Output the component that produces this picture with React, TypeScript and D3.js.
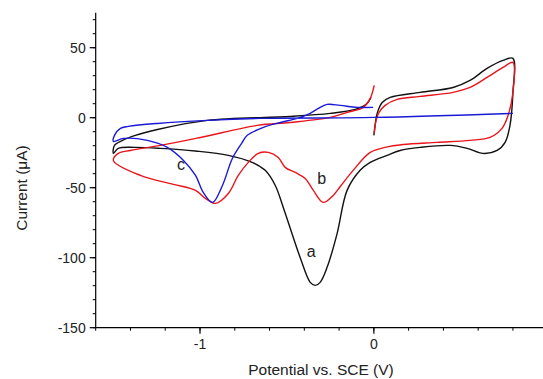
import React from "react";
import * as d3 from "d3";

// Curve a (black)
const blackE = [0.0, 0.007, 0.019, 0.048, 0.094, 0.266, 0.456, 0.553, 0.651, 0.743, 0.8, 0.8, 0.783, 0.755, 0.709, 0.628, 0.536, 0.439, 0.266, 0.151, 0.076, -0.021, -0.079, -0.154, -0.211, -0.269, -0.309, -0.337, -0.366, -0.424, -0.521, -0.567, -0.625, -0.7, -0.837, -1.026, -1.228, -1.372, -1.47, -1.498, -1.492, -1.446, -1.372, -1.245, -0.958, -0.481, -0.251, -0.107, -0.044, -0.016];
const blackI = [-12.6, -5.5, 3.1, 10.9, 14.5, 18.1, 21.6, 26.6, 35.2, 40.9, 42.4, 18.1, -5.5, -17.6, -23.4, -25.5, -21.9, -19.8, -21.2, -23.4, -26.9, -31.9, -37.6, -51.9, -82.6, -106.9, -117.6, -119.8, -117.6, -99.8, -64.1, -48.4, -37.6, -31.9, -26.9, -23.8, -21.9, -21.2, -21.9, -25.5, -19.8, -16.2, -12.6, -8.4, -1.9, 0.9, 3.1, 5.9, 9.5, 14.5];

// Curve b (red)
const redE = [0.002, 0.013, 0.03, 0.065, 0.134, 0.266, 0.456, 0.553, 0.651, 0.743, 0.8, 0.8, 0.772, 0.737, 0.668, 0.553, 0.364, 0.168, 0.065, -0.021, -0.119, -0.193, -0.234, -0.291, -0.348, -0.395, -0.452, -0.51, -0.55, -0.607, -0.665, -0.722, -0.78, -0.837, -0.911, -0.969, -1.026, -1.153, -1.343, -1.498, -1.47, -1.4, -1.228, -0.998, -0.671, -0.481, -0.251, -0.153, -0.061, -0.021, 0.002];
const redI = [-11.3, -1.9, 3.8, 8.8, 13.1, 15.2, 18.1, 21.6, 28.8, 35.9, 39.5, 18.1, 1.6, -7.6, -14.1, -16.2, -17.6, -19.1, -21.2, -24.8, -37.6, -49.1, -55.5, -60.5, -51.9, -43.4, -39.1, -35.5, -28.4, -24.8, -25.5, -31.9, -41.2, -54.1, -61.2, -57.6, -51.9, -47.6, -41.2, -30.6, -25.5, -23.4, -19.8, -14.1, -5.5, -3.4, 0.2, 3.8, 7.4, 13.8, 23.1];

// Curve c (blue)
const blueE = [-0.004, -0.096, -0.194, -0.269, -0.32, -0.366, -0.441, -0.538, -0.635, -0.728, -0.757, -0.814, -0.871, -0.928, -0.981, -1.026, -1.095, -1.188, -1.303, -1.44, -1.498, -1.492, -1.458, -1.412, -1.245, -0.958, -0.653, 0.002, 0.8];
const blueI = [7.4, 7.4, 8.8, 9.5, 6.6, 3.1, -0.5, -3.4, -6.9, -12.6, -17.6, -29.1, -48.4, -60.5, -53.4, -41.2, -30.5, -21.2, -16.2, -14.8, -16.9, -12.6, -7.6, -6.2, -4.1, -1.9, -0.5, 0.2, 3.1];

const yMajorTicks = [-150, -100, -50, 0, 50];
const xMajorTicks = [-1, 0];
const curveLabels = [
  { text: "a", E: -0.36, I: -99.5 },
  { text: "b", E: -0.3, I: -47.5 },
  { text: "c", E: -1.11, I: -37.5 },
];

const W = 543;
const H = 379;

export default function App() {
  const x = d3.scaleLinear().domain([-1.6, 1.0]).range([95.7, 547.7]);
  const y = d3.scaleLinear().domain([-150, 75]).range([327.7, 12.7]);

  const yMinor = d3.range(-150, 75, 10);
  const xMinor = d3.range(-1.6, 1.001, 0.2);

  const line = d3
    .line<[number, number]>()
    .x((d) => x(d[0]))
    .y((d) => y(d[1]))
    .curve(d3.curveCatmullRom.alpha(0.5));

  const zip = (a: number[], b: number[]) => a.map((v, i) => [v, b[i]] as [number, number]);

  const series = [
    { pts: zip(blackE, blackI), color: "#111111" },
    { pts: zip(redE, redI), color: "#e8141c" },
    { pts: zip(blueE, blueI), color: "#1a1ad6" },
  ];

  const font = "'Liberation Sans', Arial, sans-serif";
  const x0 = x(-1.6);
  const yBase = y(-150);

  return (
    <svg
      width={W}
      height={H}
      style={{ position: "absolute", left: 0, top: 0, background: "#fff" }}
      fontFamily={font}
    >
      <rect width={W} height={H} fill="#fff" />
      {series.map((s, i) => (
        <path key={i} d={line(s.pts) || ""} fill="none" stroke={s.color} strokeWidth={1.4} strokeLinejoin="round" />
      ))}
      {/* y axis */}
      <line x1={x0} x2={x0} y1={y(75)} y2={yBase} stroke="#000" strokeWidth={1.2} />
      {yMinor.map((v) => (
        <line key={"ym" + v} x1={x0} x2={x0 - 3} y1={y(v)} y2={y(v)} stroke="#000" strokeWidth={1} />
      ))}
      {yMajorTicks.map((v) => (
        <g key={"yM" + v}>
          <line x1={x0} x2={x0 - 6} y1={y(v)} y2={y(v)} stroke="#000" strokeWidth={1.2} />
          <text x={x0 - 10} y={y(v)} dy="0.35em" textAnchor="end" fontSize={14} fill="#222">
            {v}
          </text>
        </g>
      ))}
      {/* x axis */}
      <line x1={x0} x2={W + 10} y1={yBase} y2={yBase} stroke="#000" strokeWidth={1.2} />
      {xMinor.map((v, i) => (
        <line key={"xm" + i} x1={x(v)} x2={x(v)} y1={yBase} y2={yBase + 3} stroke="#000" strokeWidth={1} />
      ))}
      {xMajorTicks.map((v) => (
        <g key={"xM" + v}>
          <line x1={x(v)} x2={x(v)} y1={yBase} y2={yBase + 6} stroke="#000" strokeWidth={1.2} />
          <text x={x(v)} y={yBase + 21} textAnchor="middle" fontSize={14} fill="#222">
            {v}
          </text>
        </g>
      ))}
      <text x={321} y={375} textAnchor="middle" fontSize={15.5} fill="#222">
        Potential vs. SCE (V)
      </text>
      <text
        transform={`translate(27,188) rotate(-90)`}
        textAnchor="middle"
        fontSize={15.5}
        fill="#222"
      >
        Current (μA)
      </text>
      {curveLabels.map((l) => (
        <text key={l.text} x={x(l.E)} y={y(l.I)} textAnchor="middle" fontSize={16} fill="#222">
          {l.text}
        </text>
      ))}
    </svg>
  );
}
